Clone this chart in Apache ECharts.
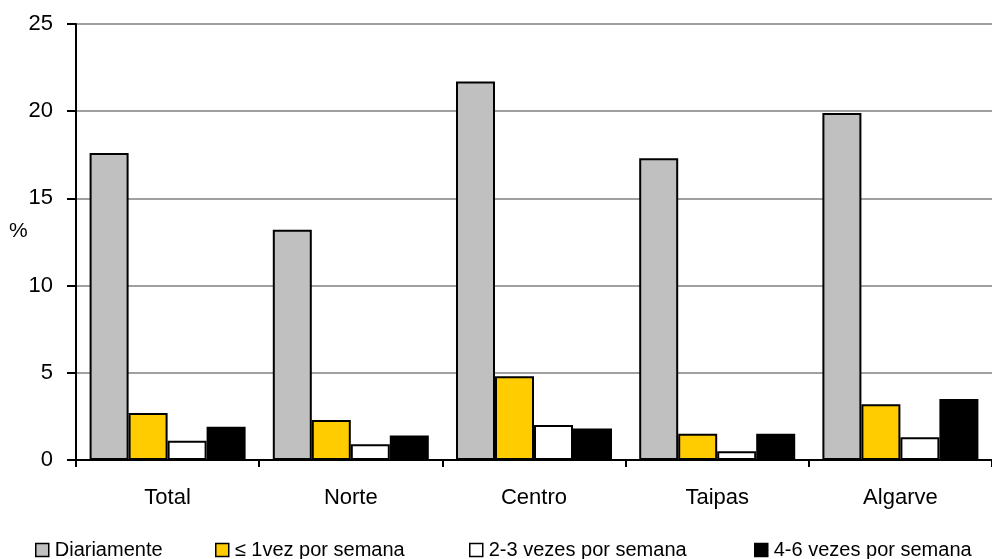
<!DOCTYPE html>
<html>
<head>
<meta charset="utf-8">
<script src="https://cdn.jsdelivr.net/npm/echarts@6/dist/echarts.min.js"></script>
<style>
html,body{margin:0;padding:0;background:#fff;}
#chart{width:992px;height:559px;}
</style>
</head>
<body>
<div id="chart"></div>
<script>
const categories = ['Total', 'Norte', 'Centro', 'Taipas', 'Algarve'];
const seriesNames = ['Diariamente', '≤ 1vez por semana', '2-3 vezes por semana', '4-6 vezes por semana'];
const diariamente = [17.6, 13.2, 21.7, 17.3, 19.9];
const umaVez = [2.7, 2.3, 4.8, 1.5, 3.2];
const duasTres = [1.1, 0.9, 2.0, 0.5, 1.3];
const quatroSeis = [1.9, 1.4, 1.8, 1.5, 3.5];
const yTicks = [0, 5, 10, 15, 20, 25];
const colors = ['#C0C0C0', '#FFCC00', '#FFFFFF', '#000000'];

const FONT = '"Liberation Sans", Arial, sans-serif';
const values = [diariamente, umaVez, duasTres, quatroSeis];
const legendLefts = [30, 210, 464, 749];

const chart = echarts.init(document.getElementById('chart'), null, {renderer: 'canvas'});
chart.setOption({
  animation: false,
  backgroundColor: '#ffffff',
  grid: {left: 76, top: 24, width: 920, height: 436, containLabel: false},
  legend: seriesNames.map((n, i) => ({
    left: legendLefts[i],
    top: 535,
    itemWidth: 13,
    itemHeight: 13,
    itemGap: 0,
    icon: 'rect',
    selectedMode: false,
    textStyle: {fontFamily: FONT, fontSize: 20, color: '#000', padding: [0, 0, 0, 1]},
    data: [{name: n, itemStyle: {borderColor: '#000', borderWidth: 1.5}}]
  })),
  graphic: [{
    type: 'text',
    left: 9,
    top: 221,
    style: {text: '%', fontFamily: FONT, fontSize: 21, fill: '#000'}
  }],
  xAxis: {
    type: 'category',
    data: categories,
    axisLine: {lineStyle: {color: '#000', width: 2}},
    axisTick: {show: true, length: 7, lineStyle: {color: '#000', width: 2}},
    axisLabel: {fontFamily: FONT, fontSize: 22, color: '#000', margin: 27},
    splitLine: {show: false}
  },
  yAxis: {
    type: 'value',
    min: yTicks[0],
    max: yTicks[yTicks.length - 1],
    interval: 5,
    axisLine: {show: true, lineStyle: {color: '#000', width: 2}},
    axisTick: {show: true, length: 9, lineStyle: {color: '#000', width: 2}},
    axisLabel: {fontFamily: FONT, fontSize: 22, color: '#000', margin: 23},
    splitLine: {show: true, lineStyle: {color: '#A0A0A0', width: 2}}
  },
  series: seriesNames.map((n, i) => ({
    name: n,
    type: 'bar',
    data: values[i],
    barWidth: 39,
    barGap: '0%',
    itemStyle: {color: colors[i], borderColor: '#000', borderWidth: 2}
  }))
});
</script>
</body>
</html>
